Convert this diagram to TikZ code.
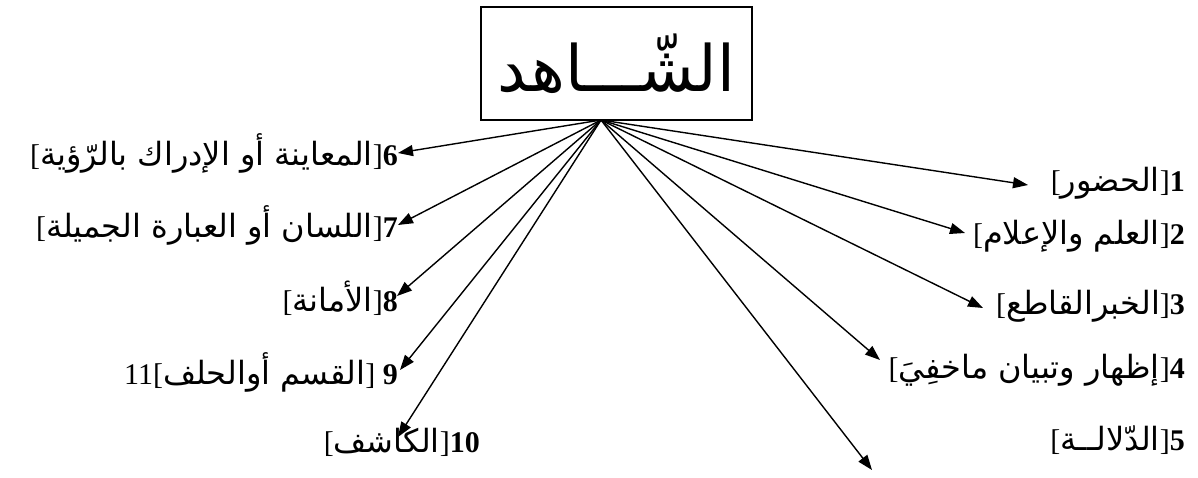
\documentclass[tikz,border=0pt]{standalone}
\usepackage{fontspec}
\usepackage{tikz}
\usetikzlibrary{arrows.meta}
\setmainfont{Liberation Serif}
\newfontfamily\arabicfont[Script=Arabic]{DejaVu Sans}
\TeXXeTstate=1
\newcommand{\arsize}{\arabicfont\fontsize{32}{36}\selectfont}
\newcommand{\entry}[2]{[{\arsize #2}]\textbf{#1}}

\begin{document}
\begin{tikzpicture}[x=1pt,y=-1pt,
    lbl/.style={anchor=east,inner sep=0pt,font=\fontsize{30}{34}\selectfont},
    ray/.style={-{Triangle[length=15pt,width=11pt]},line width=1.4pt}]
  \useasboundingbox (0,0) rectangle (1198,477);
  \node[draw,line width=1.2pt,minimum width=271pt,minimum height=113pt,
    font=\fontsize{64}{72}\selectfont] (title) at (616.5,63.5) {\arabicfont\beginR الشّـــاهد\endR};
  \coordinate (apex) at (601,120);
  % right column
  \node[lbl] (l1) at (1185,183) {\entry{1}{\beginR الحضور\endR}};
  \node[lbl] (l2) at (1185,236) {\entry{2}{\beginR العلم والإعلام\endR}};
  \node[lbl] (l3) at (1185,306) {\entry{3}{\beginR الخبرالقاطع\endR}};
  \node[lbl] (l4) at (1185,370) {\entry{4}{\beginR إظهار وتبيان ماخفِيَ\endR}};
  \node[lbl] (l5) at (1185,440) {\entry{5}{\beginR الدّلالــة\endR}};
  % left column
  \node[lbl] (l6) at (398,153) {\entry{6}{\beginR المعاينة أو الإدراك بالرّؤية\endR}};
  \node[lbl] (l7) at (398,225) {\entry{7}{\beginR اللسان أو العبارة الجميلة\endR}};
  \node[lbl] (l8) at (398,298) {\entry{8}{\beginR الأمانة\endR}};
  \node[lbl] (l9) at (398,372) {11[{\arsize\beginR القسم أوالحلف\endR}] \textbf{9}};
  \node[lbl] (l10) at (480,442) {\entry{10}{\beginR الكاشف\endR}};
  % arrow tips
  \coordinate (t1) at (1028,185);
  \coordinate (t2) at (965,233);
  \coordinate (t3) at (983,308);
  \coordinate (t4) at (880,360);
  \coordinate (t5) at (872,470);
  \coordinate (t6) at (398,153);
  \coordinate (t7) at (398,225);
  \coordinate (t8) at (397,296);
  \coordinate (t9) at (400,370);
  \coordinate (t10) at (398,437);
  \foreach \i in {1,...,10}
    \draw[ray] (apex) -- (t\i);
\end{tikzpicture}
\end{document}
